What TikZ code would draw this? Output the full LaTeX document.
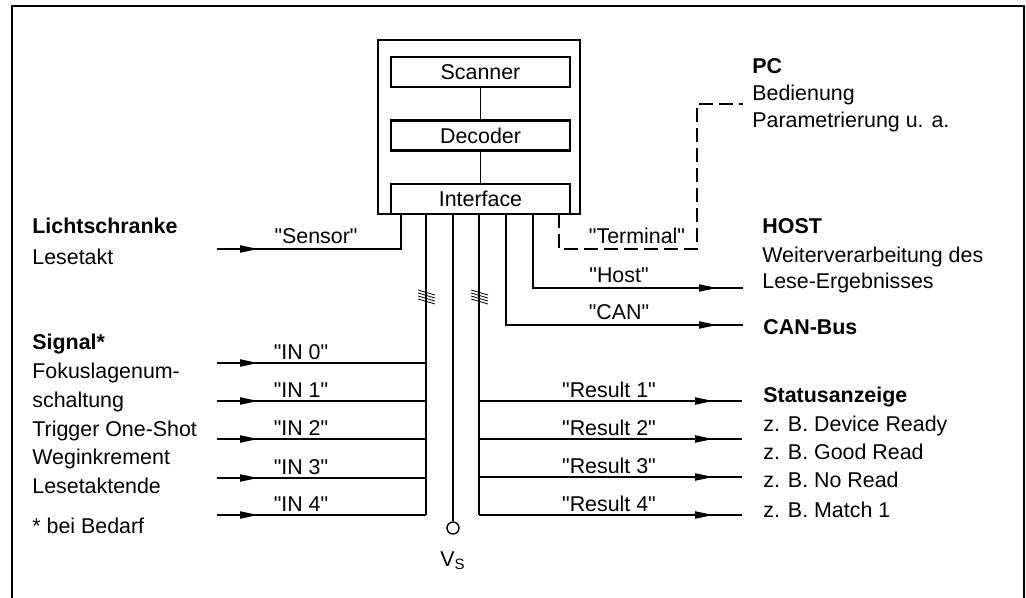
\documentclass[tikz,border=0pt]{standalone}
\usepackage{fontspec}
\setmainfont{Liberation Sans}[Ligatures=TeXOff]
\usetikzlibrary{
  arrows.meta,
  calc,
  decorations.markings
}

\tikzset{
  txtfont/.style={font=\fontsize{10.7}{12}\selectfont},
  headfont/.style={font=\fontsize{10.7}{12}\selectfont\bfseries},
  unitbox/.style={draw, line width=1.1pt, minimum width=89.5pt, minimum height=15pt, inner sep=0pt},
  conn/.style={line width=0.7pt},
  tip at/.style={postaction={decorate}, decoration={markings, mark=at position #1 with {\arrow{Triangle[length=9pt,width=3.6pt]}}}},
  txt/.style={anchor=base west, inner sep=0pt},
  lbl/.style={anchor=base, inner sep=0pt}
}

\begin{document}
\begin{tikzpicture}[x=0.5pt, y=-0.5pt, every node/.style={txtfont}]
\useasboundingbox (0,0) rectangle (1026,598);
% frame
\draw[line width=1.3pt] (12,600) -- (12,6) -- (1024,6) -- (1024,600);

% device
\node[draw, line width=1.1pt, minimum width=101pt, minimum height=87pt, inner sep=0pt] (housing) at (479,127) {};
\node[unitbox] (scanner) at (480.5,72) {Scanner};
\node[unitbox] (decoder) at (480.5,135.5) {Decoder};
\node[unitbox] (interface) at (480.5,199) {Interface};
\draw[conn] (scanner) -- (decoder);
\draw[conn] (decoder) -- (interface);

\foreach \n/\x in {pSensor/401, pIn/426, pVs/453, pRes/479, pCan/506, pHost/533, pTerm/559}
  \coordinate (\n) at (\x,214);

% left side
\node[txt, headfont] (licht) at (32,234) {Lichtschranke};
\node[txt] (lesetakt) at (32,264) {Lesetakt};
\node[txt, headfont] (signal) at (32,349) {Signal*};
\node[txt] (fokus) at (32,378) {Fokuslagenum-};
\node[txt] (schalt) at (32,407) {schaltung};
\node[txt] (trigger) at (32,436) {Trigger One-Shot};
\node[txt] (weg) at (32,464) {Weginkrement};
\node[txt] (leseende) at (32,493) {Lesetaktende};
\node[txt] (bedarf) at (32,533) {* bei Bedarf};

\coordinate (sensorin) at (217,249);
\draw[conn, tip at=20.5pt] (sensorin) -- (sensorin -| pSensor) -- (pSensor);
\node[lbl] (sensorlbl) at (316,244) {"Sensor"};

\foreach \i/\y in {0/363,1/401,2/439,3/478,4/515}{
  \coordinate (in\i) at (217,\y);
  \draw[conn, tip at=20.5pt] (in\i) -- (in\i -| pIn);
  \node[lbl] (inlbl\i) at (301,\y-4) {"IN \i"};
}
\draw[conn] (pIn) -- (pIn |- in4);

% supply
\node[circle, draw, conn, minimum size=6pt, inner sep=0pt] (vsterm) at (453,528) {};
\draw[conn] (pVs) -- (vsterm);
\node[lbl] (vslbl) at (453,566) {V\textsubscript{S}};

% outputs
\foreach \i/\y in {1/401,2/439,3/477,4/515}{
  \coordinate (res\i) at (742,\y);
  \draw[conn, tip at=-14.5pt] (res\i -| pRes) -- (res\i);
  \node[lbl] (reslbl\i) at (609,\y-4) {"Result \i"};
}
\draw[conn] (pRes) -- (pRes |- res4);

\coordinate (hostout) at (743,288);
\draw[conn, tip at=-13pt] (pHost) -- (pHost |- hostout) -- (hostout);
\node[lbl] (hostlbl) at (619,283) {"Host"};

\coordinate (canout) at (743,325);
\draw[conn, tip at=-13pt] (pCan) -- (pCan |- canout) -- (canout);
\node[lbl] (canlbl) at (619,320) {"CAN"};

\coordinate (pcout) at (743,104);
\draw[conn, dash pattern=on 7pt off 3pt] (pTerm) |- (697,249) |- (pcout);
\node[lbl] (termlbl) at (637,244) {"Terminal"};

% bus marks
\foreach \b in {pIn, pRes}
  \foreach \k in {0,...,3}
    \draw[line width=0.4pt] ($(\b)+(-8,76+3*\k)$) -- ++(17,5);

% right side
\node[txt, headfont] (pc) at (752,74) {PC};
\node[txt] (bedien) at (752,101) {Bedienung};
\node[txt] (param) at (752,128) {Parametrierung u. a.};
\node[txt, headfont] (host) at (762,234) {HOST};
\node[txt] (weiter) at (762,263) {Weiterverarbeitung des};
\node[txt] (ergeb) at (762,289) {Lese-Ergebnisses};
\node[txt, headfont] (canbus) at (763,334) {CAN-Bus};
\node[txt, headfont] (status) at (763,402) {Statusanzeige};
\node[txt] (ready) at (763,431) {z. B. Device Ready};
\node[txt] (good) at (763,459) {z. B. Good Read};
\node[txt] (noread) at (763,487) {z. B. No Read};
\node[txt] (match) at (763,517) {z. B. Match 1};
\end{tikzpicture}
\end{document}
